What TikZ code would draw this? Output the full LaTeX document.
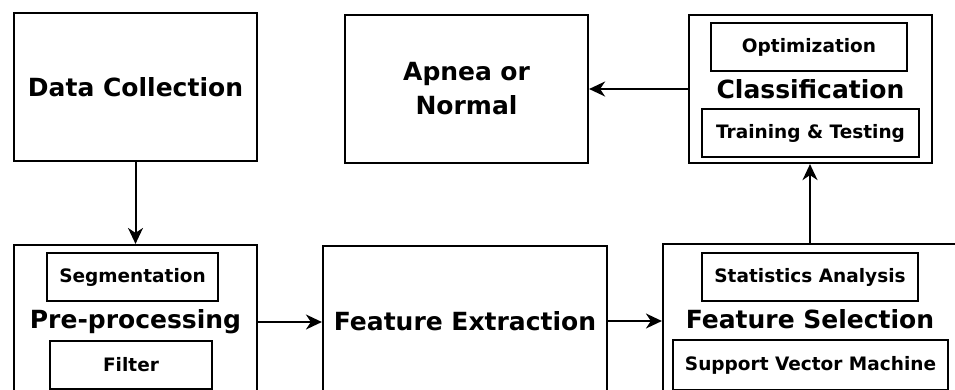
\documentclass[tikz,border=0pt]{standalone}
\usepackage{fontspec}
\setmainfont{DejaVu Sans}
\usetikzlibrary{arrows.meta,positioning}
\tikzset{
  outerbox/.style={draw, line width=2.2pt, minimum width=#1, inner sep=0pt,
    font=\fontsize{25}{34}\selectfont\bfseries, align=center},
  innerbox/.style={draw, line width=2pt, minimum width=#1, minimum height=48pt,
    inner sep=0pt, font=\fontsize{18.5}{22}\selectfont\bfseries},
  flow/.style={line width=2pt, -{Stealth[length=16pt,width=15pt,inset=5pt]}}
}
\begin{document}
\begin{tikzpicture}[x=1pt,y=-1pt]
\useasboundingbox (0,0) rectangle (955,389);
\clip (0,0) rectangle (955,389);
\fill[white] (0,0) rectangle (955,389);

% top row
\node[outerbox=243pt, minimum height=148pt] (dc) at (135.5,87) {Data Collection};
\node[outerbox=243pt, minimum height=148pt, text width=200pt] (an) at (466.5,89) {Apnea or\\Normal};
\node[outerbox=243pt, minimum height=148pt] (cl) at (810.5,89) {Classification};
\node[innerbox=196pt] (opt) at (809,47) {Optimization};
\node[innerbox=217pt] (tt) at (810.5,133) {Training \& Testing};

% bottom row (boxes run past the lower edge)
\node[outerbox=243pt, minimum height=154pt] (pp) at (135.5,322) {Pre-processing};
\node[innerbox=171pt] (seg) at (132.5,277) {Segmentation};
\node[innerbox=162pt] (flt) at (131,365) {Filter};

\node[outerbox=284pt, minimum height=150pt] (fe) at (465,321) {Feature Extraction};

\node[outerbox=294pt, minimum height=150pt] (fs) at (810,319) {Feature Selection};
\node[innerbox=216pt] (sa) at (810,277) {Statistics Analysis};
\node[innerbox=275pt, minimum height=50pt] (svm) at (810.5,365) {Support Vector Machine};

% connectors
\draw[flow] (dc.south) -- (pp.north);
\draw[flow] (pp.east) -- (pp.east -| fe.west);
\draw[flow] (fe.east) -- (fe.east -| fs.west);
\draw[flow] (fs.north) -- (fs.north |- cl.south);
\draw[flow] (cl.west) -- (cl.west -| an.east);
\end{tikzpicture}
\end{document}
